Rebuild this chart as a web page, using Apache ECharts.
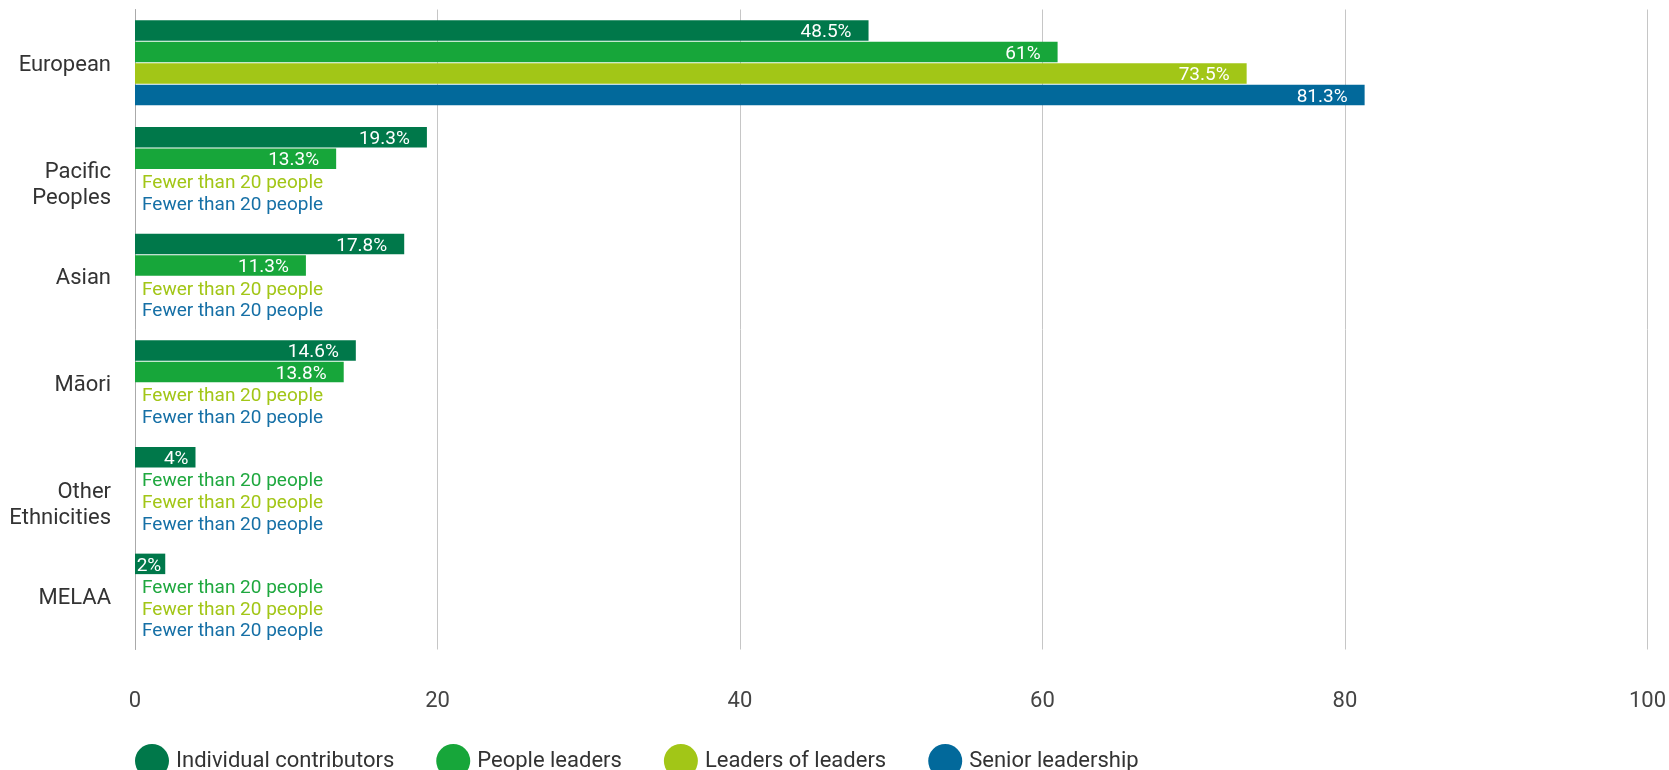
<!DOCTYPE html>
<html>
<head>
<meta charset="utf-8">
<script src="https://cdn.jsdelivr.net/npm/echarts@6/dist/echarts.min.js"></script>
<style>
  html, body { margin: 0; padding: 0; background: #ffffff; }
  #chart { width: 1669px; height: 770px; }
</style>
</head>
<body>
<div id="chart"></div>
<script>
// Ethnicity by leadership level (% of staff at each level)
const categories = ['European', 'Pacific\nPeoples', 'Asian', 'Māori', 'Other\nEthnicities', 'MELAA'];
const seriesNames = ['Individual contributors', 'People leaders', 'Leaders of leaders', 'Senior leadership'];

// null = suppressed because fewer than 20 people in the group
const individualContributors = [48.5, 19.3, 17.8, 14.6, 4, 2];
const peopleLeaders          = [61, 13.3, 11.3, 13.8, null, null];
const leadersOfLeaders       = [73.5, null, null, null, null, null];
const seniorLeadership       = [81.3, null, null, null, null, null];

const suppressedText = 'Fewer than 20 people';
const xTicks = [0, 20, 40, 60, 80, 100];

const colors = ['#00784A', '#17A63A', '#A2C617', '#02699B'];
const textColors = ['#00784A', '#1FA83F', '#A2C617', '#1670A6'];
const FONT = 'Roboto';

function buildData(values, idx) {
  return values.map(function (v) {
    if (v === null) {
      return {
        value: 0,
        label: {
          show: true,
          position: 'right',
          distance: 7,
          offset: [0, 3],
          formatter: suppressedText,
          color: textColors[idx],
          fontSize: 19
        }
      };
    }
    const item = { value: v };
    if (v < 5) {
      item.label = { distance: v < 3 ? 4 : 7 };
    }
    return item;
  });
}

// Category names: an invisible spacer line above nudges each name slightly
// below the band centre (more for the two-line names).
function categoryLabel(value) {
  const lines = value.split('\n');
  const spacer = lines.length > 1 ? '{gap2| }' : '{gap1| }';
  return spacer + '\n' + lines.map(function (l) { return '{n|' + l + '}'; }).join('\n');
}

const allValues = [individualContributors, peopleLeaders, leadersOfLeaders, seniorLeadership];

const chart = echarts.init(document.getElementById('chart'), null, { renderer: 'canvas' });

chart.setOption({
  animation: false,
  textStyle: { fontFamily: FONT },
  grid: { left: 135, right: 21.5, top: 9.5, bottom: 120.5, containLabel: false },
  xAxis: {
    type: 'value',
    min: xTicks[0],
    max: xTicks[xTicks.length - 1],
    interval: xTicks[1] - xTicks[0],
    axisLine: { show: false },
    axisTick: { show: false },
    axisLabel: { color: '#444444', fontSize: 22, margin: 41, fontFamily: FONT },
    splitLine: { show: true, lineStyle: { color: '#c6c6c6', width: 1 } }
  },
  yAxis: {
    type: 'category',
    data: categories,
    inverse: true,
    axisLine: { show: true, lineStyle: { color: '#aaaaaa', width: 1 } },
    axisTick: { show: false },
    axisLabel: {
      margin: 24,
      align: 'right',
      formatter: categoryLabel,
      rich: {
        gap1: { fontSize: 2, lineHeight: 5, align: 'right' },
        gap2: { fontSize: 2, lineHeight: 32, align: 'right' },
        n: { color: '#333333', fontSize: 22, lineHeight: 26, fontFamily: FONT, align: 'right' }
      }
    }
  },
  legend: {
    data: seriesNames,
    left: 130,
    top: 739,
    icon: 'circle',
    itemWidth: 34,
    itemHeight: 34,
    itemGap: 42,
    textStyle: { color: '#333333', fontSize: 22, fontFamily: FONT, padding: [0, 0, 0, 2] }
  },
  series: seriesNames.map(function (name, i) {
    return {
      name: name,
      type: 'bar',
      data: buildData(allValues[i], i),
      barWidth: 20.5,
      barGap: '5%',
      itemStyle: { color: colors[i] },
      label: {
        show: true,
        position: 'insideRight',
        distance: 17,
        offset: [0, 2],
        color: '#ffffff',
        fontSize: 19,
        fontFamily: FONT,
        formatter: function (p) { return p.value + '%'; }
      }
    };
  })
});
</script>
</body>
</html>
